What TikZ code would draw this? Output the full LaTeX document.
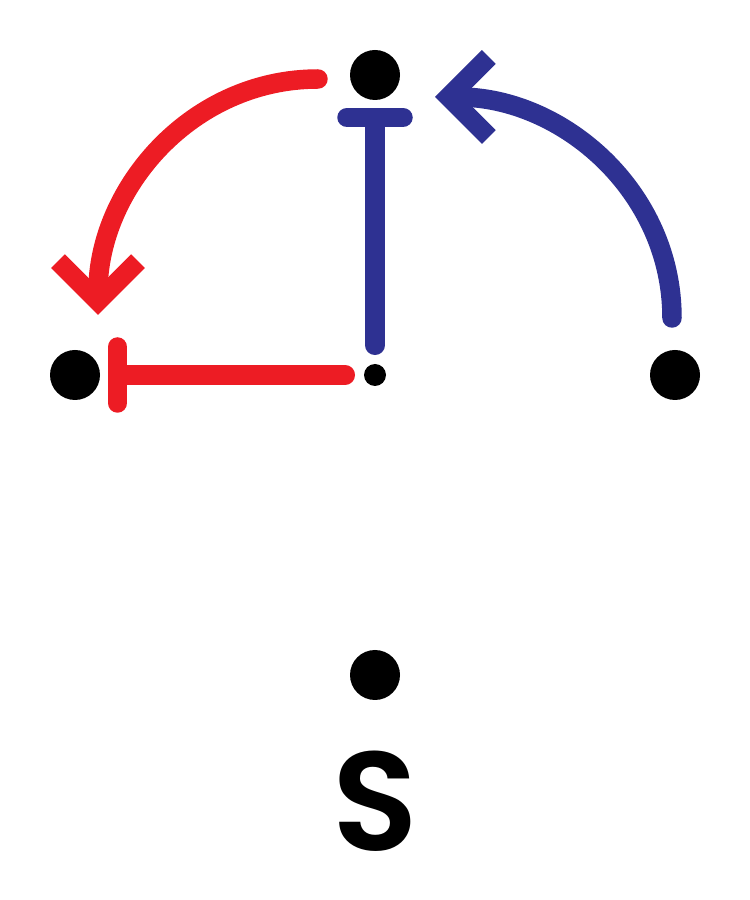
\documentclass[tikz,border=0pt]{standalone}
\usepackage{fontspec}
\setmainfont{Poppins}
\newfontfamily\tagfont{Poppins SemiBold}
\usetikzlibrary{arrows.meta, positioning}
\definecolor{sgRed}{HTML}{ED1C24}
\definecolor{sgBlue}{HTML}{2E3192}
\tikzset{
  spot/.style={circle, fill=black, inner sep=0pt, minimum size=5mm},
  hub/.style={spot, minimum size=2.2mm},
  edge/.style={line width=1.95mm, line cap=round},
  inhibit/.style={edge, -{Bar[width=5.6mm, round]}},
  activate/.style={edge, -{Straight Barb[length=4mm, width=8mm]}},
  tag/.style={font=\fontsize{40}{48}\selectfont\tagfont, inner sep=0pt}
}

\begin{document}
\begin{tikzpicture}[node distance=5mm]
  \useasboundingbox (0,0) rectangle (7.5,9);
  \node[spot] (topdot) at (3.75,8.25) {};
  \node[spot] (leftdot) at (0.75,5.25) {};
  \node[hub] (hubdot) at (3.75,5.25) {};
  \node[spot] (rightdot) at (6.75,5.25) {};
  \node[spot] (lowdot) at (3.75,2.25) {};
  \node[tag, below=of lowdot] (lbl) {S};
  \draw[inhibit, sgBlue, shorten <=1.8mm, shorten >=0.7mm] (hubdot) -- (topdot);
  \draw[inhibit, sgRed, shorten <=1.8mm, shorten >=0.7mm] (hubdot) -- (leftdot);
  \draw[activate, sgRed] ([shift={(-0.57,-0.04)}]topdot.center) to[out=180, in=90] ([shift={(0.23,0.6)}]leftdot.center);
  \draw[activate, sgBlue] ([shift={(-0.03,0.57)}]rightdot.center) to[out=90, in=0] ([shift={(0.6,-0.22)}]topdot.center);
\end{tikzpicture}
\end{document}
